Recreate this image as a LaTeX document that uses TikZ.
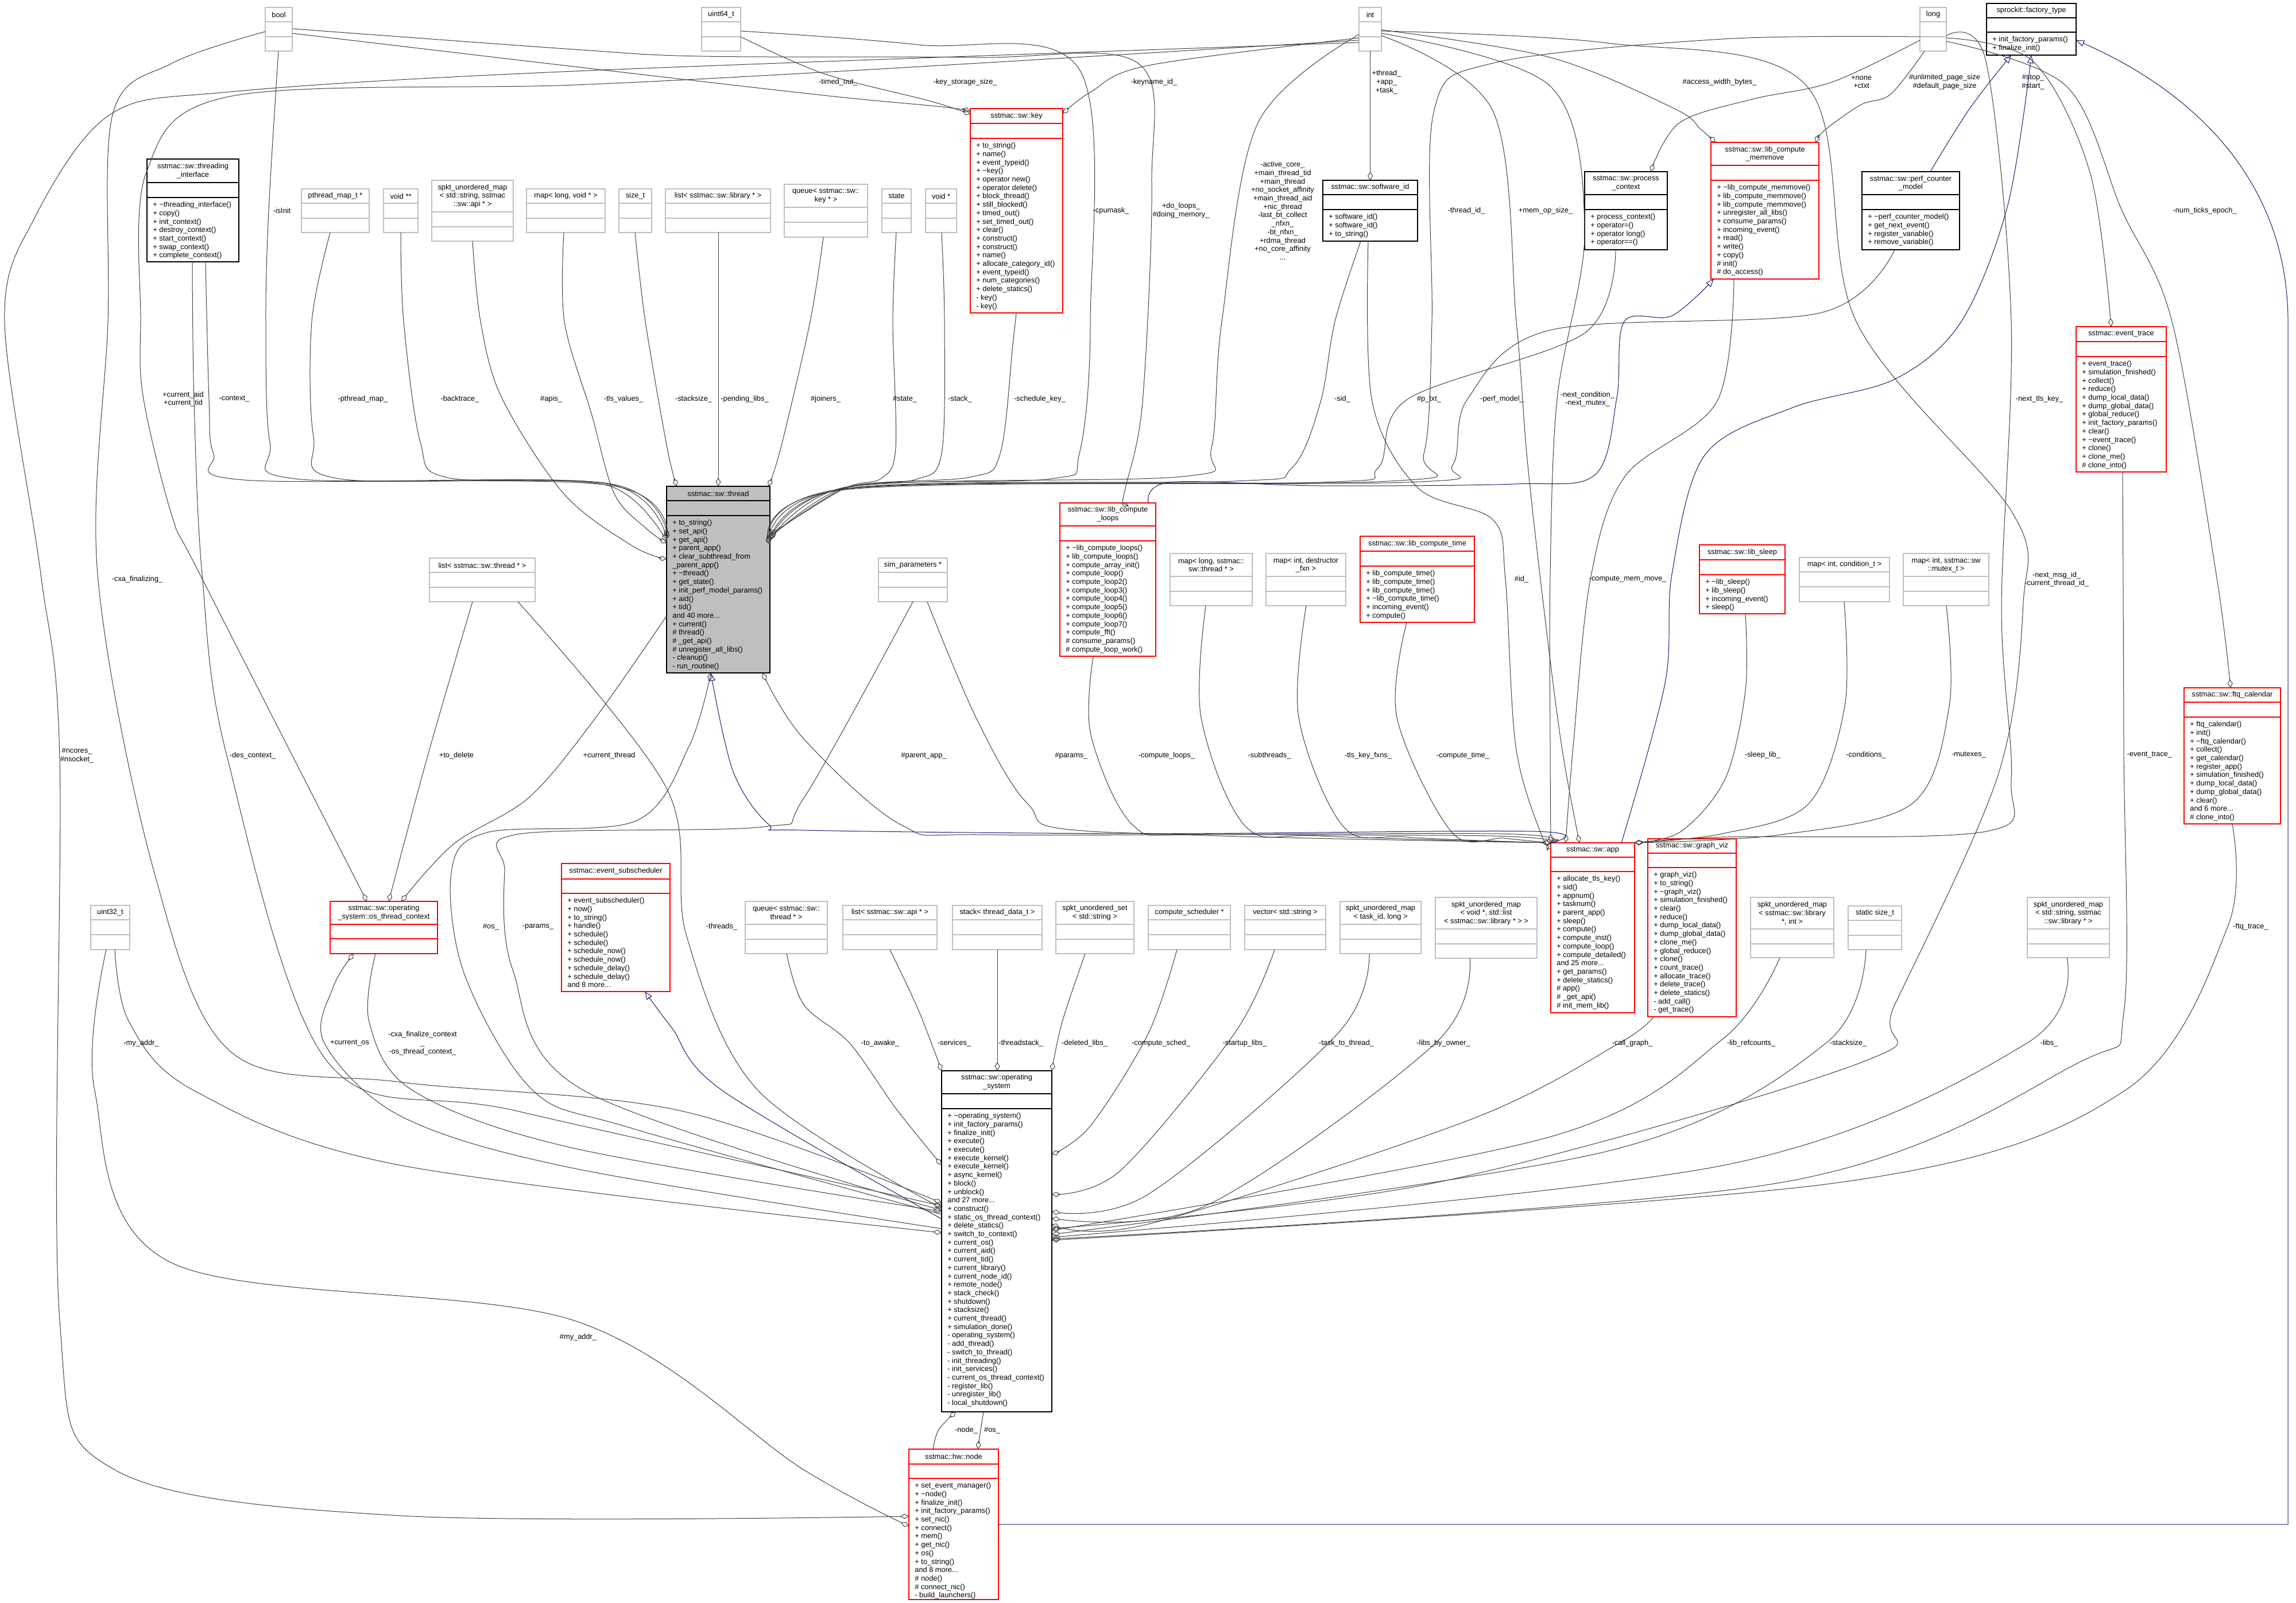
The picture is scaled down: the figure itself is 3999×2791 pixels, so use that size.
\documentclass[tikz,border=0pt]{standalone}
\usepackage{fontspec}
\setmainfont{Liberation Sans}
\usetikzlibrary{arrows.meta}
\definecolor{boxgray}{HTML}{BFBFBF}
\definecolor{edgec}{HTML}{404040}
\definecolor{inhc}{HTML}{191970}
\definecolor{boxred}{HTML}{FF0000}
\newcommand\fs{\fontsize{6.4pt}{7.35pt}\selectfont}
\newcommand\T{\textasciitilde}
\newcommand\cls[9]{%
  \pgfmathsetmacro\cw{(#4-#2)*0.5}%
  \pgfmathsetmacro\ch{(#5-#3)*0.5}%
  \node[#8, anchor=north west, minimum width=\cw pt, minimum height=\ch pt, inner sep=0pt, outer sep=0pt] (#1) at (#2,#3) {};
  \draw[#8,fill=none] (#2,#3+#6) -- (#4,#3+#6) (#2,#3+#6+#7) -- (#4,#3+#6+#7);
  \node[ttl] at ({(#2+#4)/2},{#3+#6/2}) {#9};
}
\newcommand\mth[3]{\node[mtext] at (#1+10,#2+6) {\strut #3};}
\begin{document}
\begin{tikzpicture}[x=0.5pt,y=-0.5pt,
  gbox/.style={draw=boxgray,line width=0.9pt},
  kbox/.style={draw=black,line width=0.9pt},
  rbox/.style={draw=boxred,line width=0.9pt},
  tbox/.style={draw=black,fill=boxgray,line width=0.9pt},
  ttl/.style={font=\fs,align=center,inner sep=0pt},
  mtext/.style={font=\fs,align=left,inner sep=0pt,anchor=north west},
  lbl/.style={font=\fs,align=center,inner sep=0pt},
  edge/.style={draw=edgec,line width=0.5pt,-{Diamond[open,length=7.5pt,width=4.5pt]}},
  inh/.style={draw=inhc,line width=0.5pt,-{Triangle[open,length=7pt,width=5.5pt]}},
  sm/.style={smooth,tension=0.55}]
\fill[white] (0,0) rectangle (3999,2791);
\useasboundingbox (0,0) rectangle (3999,2791);

% ---------- boxes ----------
\cls{bool}{462}{13}{509}{89}{25}{26}{gbox}{bool}
\cls{uint64}{1222}{13}{1290}{89}{25}{26}{gbox}{uint64\_t}
\cls{int}{2367}{13}{2406}{89}{25}{26}{gbox}{int}
\cls{long}{3344}{13}{3390}{89}{25}{26}{gbox}{long}
\cls{factory}{3460}{6}{3616}{96}{25}{25}{kbox}{sprockit::factory\_type}
\mth{3460}{56}{+ init\_factory\_params()\\+ finalize\_init()}
\cls{thrint}{256}{277}{416}{456}{41}{26}{kbox}{sstmac::sw::threading\\\_interface}
\mth{256}{344}{+ \T threading\_interface()\\+ copy()\\+ init\_context()\\+ destroy\_context()\\+ start\_context()\\+ swap\_context()\\+ complete\_context()}
\cls{pmap}{525}{329}{643}{405}{25}{26}{gbox}{pthread\_map\_t *}
\cls{voidpp}{668}{329}{728}{405}{25}{26}{gbox}{void **}
\cls{apimap}{752}{314}{894}{420}{55}{26}{gbox}{spkt\_unordered\_map\\< std::string, sstmac\\::sw::api * >}
\cls{maplv}{917}{329}{1054}{405}{25}{26}{gbox}{map< long, void * >}
\cls{sizet}{1078}{329}{1135}{405}{25}{26}{gbox}{size\_t}
\cls{liblist}{1159}{329}{1342}{405}{25}{26}{gbox}{list< sstmac::sw::library * >}
\cls{keyq}{1366}{321}{1511}{413}{40}{26}{gbox}{queue< sstmac::sw::\\key * >}
\cls{state}{1536}{329}{1587}{405}{25}{26}{gbox}{state}
\cls{voidp}{1612}{329}{1666}{405}{25}{26}{gbox}{void *}
\cls{key}{1690}{189}{1851}{545}{26}{26}{rbox}{sstmac::sw::key}
\mth{1690}{241}{+ to\_string()\\+ name()\\+ event\_typeid()\\+ \T key()\\+ operator new()\\+ operator delete()\\+ block\_thread()\\+ still\_blocked()\\+ timed\_out()\\+ set\_timed\_out()\\+ clear()\\+ construct()\\+ construct()\\+ name()\\+ allocate\_category\_id()\\+ event\_typeid()\\+ num\_categories()\\+ delete\_statics()\\- key()\\- key()}
\cls{swid}{2304}{314}{2469}{420}{25}{26}{kbox}{sstmac::sw::software\_id}
\mth{2304}{365}{+ software\_id()\\+ software\_id()\\+ to\_string()}
\cls{pctx}{2760}{299}{2904}{435}{40}{26}{kbox}{sstmac::sw::process\\\_context}
\mth{2760}{365}{+ process\_context()\\+ operator=()\\+ operator long()\\+ operator==()}
\cls{memmove}{2980}{248}{3168}{486}{40}{26}{rbox}{sstmac::sw::lib\_compute\\\_memmove}
\mth{2980}{314}{+ \T lib\_compute\_memmove()\\+ lib\_compute\_memmove()\\+ lib\_compute\_memmove()\\+ unregister\_all\_libs()\\+ consume\_params()\\+ incoming\_event()\\+ read()\\+ write()\\+ copy()\\\# init()\\\# do\_access()}
\cls{perf}{3243}{299}{3413}{435}{40}{26}{kbox}{sstmac::sw::perf\_counter\\\_model}
\mth{3243}{365}{+ \T perf\_counter\_model()\\+ get\_next\_event()\\+ register\_variable()\\+ remove\_variable()}
\cls{evtrace}{3616}{569}{3773}{822}{26}{26}{rbox}{sstmac::event\_trace}
\mth{3616}{621}{+ event\_trace()\\+ simulation\_finished()\\+ collect()\\+ reduce()\\+ dump\_local\_data()\\+ dump\_global\_data()\\+ global\_reduce()\\+ init\_factory\_params()\\+ clear()\\+ \T event\_trace()\\+ clone()\\+ clone\_me()\\\# clone\_into()}
\cls{thread}{1161}{847}{1341}{1172}{25}{26}{tbox}{sstmac::sw::thread}
\mth{1161}{898}{+ to\_string()\\+ set\_api()\\+ get\_api()\\+ parent\_app()\\+ clear\_subthread\_from\\\_parent\_app()\\+ \T thread()\\+ get\_state()\\+ init\_perf\_model\_params()\\+ aid()\\+ tid()\\and 40 more...\\+ current()\\\# thread()\\\# \_get\_api()\\\# unregister\_all\_libs()\\- cleanup()\\- run\_routine()}
\cls{thlist}{748}{972}{932}{1048}{25}{26}{gbox}{list< sstmac::sw::thread * >}
\cls{simp}{1530}{972}{1650}{1048}{25}{26}{gbox}{sim\_parameters *}
\cls{loops}{1846}{876}{2013}{1143}{40}{26}{rbox}{sstmac::sw::lib\_compute\\\_loops}
\mth{1846}{942}{+ \T lib\_compute\_loops()\\+ lib\_compute\_loops()\\+ compute\_array\_init()\\+ compute\_loop()\\+ compute\_loop2()\\+ compute\_loop3()\\+ compute\_loop4()\\+ compute\_loop5()\\+ compute\_loop6()\\+ compute\_loop7()\\+ compute\_fft()\\\# consume\_params()\\\# compute\_loop\_work()}
\cls{mapthr}{2038}{964}{2181}{1055}{40}{26}{gbox}{map< long, sstmac::\\sw::thread * >}
\cls{mapdes}{2205}{964}{2344}{1055}{40}{26}{gbox}{map< int, destructor\\\_fxn >}
\cls{ctime}{2369}{934}{2568}{1084}{26}{26}{rbox}{sstmac::sw::lib\_compute\_time}
\mth{2369}{986}{+ lib\_compute\_time()\\+ lib\_compute\_time()\\+ lib\_compute\_time()\\+ \T lib\_compute\_time()\\+ incoming\_event()\\+ compute()}
\cls{sleep}{2960}{949}{3109}{1069}{26}{26}{rbox}{sstmac::sw::lib\_sleep}
\mth{2960}{1001}{+ \T lib\_sleep()\\+ lib\_sleep()\\+ incoming\_event()\\+ sleep()}
\cls{mapcond}{3134}{971}{3291}{1048}{25}{26}{gbox}{map< int, condition\_t >}
\cls{mapmutex}{3315}{964}{3464}{1055}{40}{26}{gbox}{map< int, sstmac::sw\\::mutex\_t >}
\cls{ftq}{3804}{1198}{3972}{1435}{25}{26}{rbox}{sstmac::sw::ftq\_calendar}
\mth{3804}{1249}{+ ftq\_calendar()\\+ init()\\+ \T ftq\_calendar()\\+ collect()\\+ get\_calendar()\\+ register\_app()\\+ simulation\_finished()\\+ dump\_local\_data()\\+ dump\_global\_data()\\+ clear()\\and 6 more...\\\# clone\_into()}
\cls{app}{2701}{1468}{2847}{1764}{25}{25}{rbox}{sstmac::sw::app}
\mth{2701}{1518}{+ allocate\_tls\_key()\\+ sid()\\+ appnum()\\+ tasknum()\\+ parent\_app()\\+ sleep()\\+ compute()\\+ compute\_inst()\\+ compute\_loop()\\+ compute\_detailed()\\and 25 more...\\+ get\_params()\\+ delete\_statics()\\\# app()\\\# \_get\_api()\\\# init\_mem\_lib()}
\cls{gviz}{2870}{1461}{3024}{1771}{25}{25}{rbox}{sstmac::sw::graph\_viz}
\mth{2870}{1511}{+ graph\_viz()\\+ to\_string()\\+ \T graph\_viz()\\+ simulation\_finished()\\+ clear()\\+ reduce()\\+ dump\_local\_data()\\+ dump\_global\_data()\\+ clone\_me()\\+ global\_reduce()\\+ clone()\\+ count\_trace()\\+ allocate\_trace()\\+ delete\_trace()\\+ delete\_statics()\\- add\_call()\\- get\_trace()}
\cls{u32}{158}{1577}{226}{1654}{25}{26}{gbox}{uint32\_t}
\cls{osctx}{575}{1570}{762}{1661}{40}{25}{rbox}{sstmac::sw::operating\\\_system::os\_thread\_context}
\cls{evsub}{978}{1504}{1167}{1727}{27}{25}{rbox}{sstmac::event\_subscheduler}
\mth{978}{1556}{+ event\_subscheduler()\\+ now()\\+ to\_string()\\+ handle()\\+ schedule()\\+ schedule()\\+ schedule\_now()\\+ schedule\_now()\\+ schedule\_delay()\\+ schedule\_delay()\\and 8 more...}
\cls{thq}{1298}{1570}{1441}{1661}{40}{26}{gbox}{queue< sstmac::sw::\\thread * >}
\cls{apilist}{1468}{1577}{1632}{1654}{25}{26}{gbox}{list< sstmac::sw::api * >}
\cls{tdstack}{1659}{1577}{1815}{1654}{25}{26}{gbox}{stack< thread\_data\_t >}
\cls{strset}{1839}{1570}{1975}{1661}{40}{26}{gbox}{spkt\_unordered\_set\\< std::string >}
\cls{csched}{2000}{1577}{2143}{1654}{25}{26}{gbox}{compute\_scheduler *}
\cls{strvec}{2168}{1577}{2309}{1654}{25}{26}{gbox}{vector< std::string >}
\cls{taskmap}{2334}{1570}{2475}{1661}{40}{26}{gbox}{spkt\_unordered\_map\\< task\_id, long >}
\cls{ownermap}{2500}{1563}{2677}{1669}{55}{26}{gbox}{spkt\_unordered\_map\\< void *, std::list\\< sstmac::sw::library * > >}
\cls{refmap}{3049}{1563}{3194}{1668}{55}{26}{gbox}{spkt\_unordered\_map\\< sstmac::sw::library\\*, int >}
\cls{ssize}{3219}{1578}{3312}{1654}{25}{26}{gbox}{static size\_t}
\cls{libsmap}{3531}{1563}{3674}{1668}{55}{26}{gbox}{spkt\_unordered\_map\\< std::string, sstmac\\::sw::library * >}
\cls{os}{1640}{1865}{1832}{2459}{40}{26}{kbox}{sstmac::sw::operating\\\_system}
\mth{1640}{1931}{+ \T operating\_system()\\+ init\_factory\_params()\\+ finalize\_init()\\+ execute()\\+ execute()\\+ execute\_kernel()\\+ execute\_kernel()\\+ async\_kernel()\\+ block()\\+ unblock()\\and 27 more...\\+ construct()\\+ static\_os\_thread\_context()\\+ delete\_statics()\\+ switch\_to\_context()\\+ current\_os()\\+ current\_aid()\\+ current\_tid()\\+ current\_library()\\+ current\_node\_id()\\+ remote\_node()\\+ stack\_check()\\+ shutdown()\\+ stacksize()\\+ current\_thread()\\+ simulation\_done()\\- operating\_system()\\- add\_thread()\\- switch\_to\_thread()\\- init\_threading()\\- init\_services()\\- current\_os\_thread\_context()\\- register\_lib()\\- unregister\_lib()\\- local\_shutdown()}
\cls{node}{1583}{2524}{1739}{2786}{26}{25}{rbox}{sstmac::hw::node}
\mth{1583}{2575}{+ set\_event\_manager()\\+ \T node()\\+ finalize\_init()\\+ init\_factory\_params()\\+ set\_nic()\\+ connect()\\+ mem()\\+ get\_nic()\\+ os()\\+ to\_string()\\and 8 more...\\\# node()\\\# connect\_nic()\\- build\_launchers()}

% ---------- member edges into thread ----------
\draw[edge] plot[sm] coordinates {(485,0|-bool.south) (468,367) (463,560) (470,770) (515,834) (1060,842) (thread.west|-0,936)};
\draw[edge] plot[sm] coordinates {(358,0|-thrint.south) (364,695) (372,790) (425,836) (1060,845) (thread.west|-0,939)};
\draw[edge] plot[sm] coordinates {(575,0|-pmap.south) (543,560) (546,760) (592,834) (1060,843) (thread.west|-0,941)};
\draw[edge] plot[sm] coordinates {(698,0|-voidpp.south) (703,560) (732,770) (780,832) (1060,846) (thread.west|-0,943)};
\draw[edge] plot[sm] coordinates {(823,0|-apimap.south) (837,560) (874,693) (982,860) (1100,950) (thread.west|-0,974)};
\draw[edge] plot[sm] coordinates {(982,0|-maplv.south) (983,560) (1030,720) (1070,860) (1125,920) (thread.west|-0,946)};
\draw[edge] plot[sm] coordinates {(1106,0|-sizet.south) (1124,560) (1162,780) (1179,0|-thread.north)};
\draw[edge] (1251,0|-liblist.south) -- (1251,0|-thread.north);
\draw[edge] plot[sm] coordinates {(1434,0|-keyq.south) (1411,560) (1360,780) (1338,0|-thread.north)};
\draw[edge] plot[sm] coordinates {(1561,0|-state.south) (1555,560) (1560,780) (1535,833) (1470,851) (thread.east|-0,931)};
\draw[edge] plot[sm] coordinates {(1640,0|-voidp.south) (1645,560) (1640,790) (1595,835) (1470,851) (thread.east|-0,934)};
\draw[edge] plot[sm] coordinates {(1770,0|-key.south) (1764,600) (1742,790) (1690,831) (1470,850) (thread.east|-0,937)};
\draw[edge] plot[sm] coordinates {(uint64.east|-0,54) (1600,78) (1880,121) (1899,560) (1880,790) (1830,834) (1470,849) (thread.east|-0,939)};
\draw[edge] plot[sm] coordinates {(int.west|-0,60) (2191,214) (2128,560) (2110,780) (2060,830) (1480,848) (thread.east|-0,941)};
\draw[edge] plot[sm] coordinates {(2370,0|-swid.south) (2325,560) (2300,700) (2250,815) (2150,838) (1480,850) (thread.east|-0,943)};
\draw[edge] plot[sm] coordinates {(2814,0|-pctx.south) (2760,580) (2452,695) (2400,815) (2300,840) (1480,851) (thread.east|-0,945)};
\draw[edge] plot[sm] coordinates {(3300,0|-perf.south) (3170,545) (2700,575) (2556,695) (2530,810) (2450,840) (1480,852) (thread.east|-0,947)};
\draw[edge] plot[sm] coordinates {(long.west|-0,64) (3000,68) (2600,110) (2497,196) (2494,560) (2480,790) (2420,838) (1480,850) (thread.east|-0,949)};

% ---------- top area ----------
\draw[edge] plot[sm] coordinates {(bool.east|-0,50) (1000,86) (1223,98) (1700,100) (1982,110) (2006,321) (1990,700) (1960,850) (1952,0|-loops.north)};
\draw[edge] plot[sm] coordinates {(bool.east|-0,58) (1000,116) (1434,166) (1640,186) (key.west|-0,194)};
\draw[edge] plot[sm] coordinates {(uint64.east|-0,64) (1434,128) (1620,176) (key.west|-0,199)};
\draw[edge] plot[sm] coordinates {(int.west|-0,66) (2000,114) (1900,160) (key.east|-0,198)};
\draw[edge] (int.south) -- (swid.north);
\draw[edge] plot[sm] coordinates {(int.east|-0,52) (2700,100) (2916,189) (2962,225) (2988,0|-memmove.north)};
\draw[edge] plot[sm] coordinates {(3352,0|-long.south) (3293,164) (3242,182) (3180,225) (3162,0|-memmove.north)};
\draw[edge] plot[sm] coordinates {(long.west|-0,70) (3191,143) (3051,173) (2925,214) (2875,0|-pctx.north)};
\draw[edge] plot[sm] coordinates {(long.east|-0,66) (3541,107) (3640,300) (3677,0|-evtrace.north)};
\draw[edge] plot[sm] coordinates {(long.east|-0,72) (3599,150) (3696,367) (3783,560) (3860,1000) (3885,0|-ftq.north)};

% ---------- far left ----------
\draw[edge] plot[sm] coordinates {(int.west|-0,70) (1500,122) (1000,148) (400,168) (255,300) (245,560) (250,695) (300,900) (348,1000) (639,0|-osctx.north)};
\draw[edge] plot[sm] coordinates {(int.west|-0,74) (1000,124) (400,160) (191,200) (60,380) (8,560) (71,1000) (104,1321) (104,2300) (200,2560) (700,2640) (node.west|-0,2641)};
\draw[edge] plot[sm] coordinates {(bool.west|-0,55) (300,110) (196,200) (188,560) (170,1000) (268,1517) (402,1832) (700,1885) (1187,1935) (os.west|-0,2095)};
\draw[edge] plot[sm] coordinates {(335,0|-thrint.south) (338,700) (352,1000) (395,1316) (571,1850) (900,1935) (os.west|-0,2100)};
\draw[edge] plot[sm] coordinates {(902,0|-thlist.south) (1161,1373) (1196,1631) (1321,1900) (os.west|-0,2104)};
\draw[edge] plot[sm] coordinates {(654,0|-osctx.south) (643,1780) (720,1900) (1000,2000) (os.west|-0,2110)};
\draw[edge] plot[sm] coordinates {(os.west|-0,2140) (1000,2035) (700,1945) (565,1817) (580,1720) (616,0|-osctx.south)};
\draw[edge] plot[sm] coordinates {(thread.west|-0,1073) (1030,1260) (920,1390) (790,1470) (699,0|-osctx.north)};
\draw[edge] plot[sm] coordinates {(823,0|-thlist.south) (745,1316) (677,0|-osctx.north)};
\draw[edge] plot[sm] coordinates {(os.west|-0,2115) (1100,1965) (929,1900) (810,1700) (786,1520) (848,1450) (1107,1430) (1200,1300) (1238,0|-thread.south)};
\draw[edge] plot[sm] coordinates {(1590,0|-simp.south) (1400,1390) (1330,1440) (902,1453) (879,1517) (893,1689) (1018,1900) (os.west|-0,2108)};
\draw[edge] plot[sm] coordinates {(200,0|-u32.south) (225,1780) (339,1900) (700,2030) (os.west|-0,2147)};
\draw[edge] plot[sm] coordinates {(185,0|-u32.south) (165,1900) (300,2200) (1000,2300) (1400,2560) (node.west|-0,2658)};

% ---------- into app ----------
\draw[edge] plot[sm] coordinates {(1615,0|-simp.south) (1700,1250) (1790,1400) (1900,1448) (2600,1456) (app.north west)};
\draw[edge] plot[sm] coordinates {(app.north west) (2600,1452) (1735,1454) (1572,1438) (1400,1287) (1328,0|-thread.south)};
\draw[edge] plot[sm] coordinates {(1904,0|-loops.south) (1900,1280) (1974,1438) (2100,1455) (app.north west)};
\draw[edge] plot[sm] coordinates {(2100,0|-mapthr.south) (2092,1250) (2170,1440) (2300,1456) (app.north west)};
\draw[edge] plot[sm] coordinates {(2275,0|-mapdes.south) (2262,1250) (2340,1440) (2450,1458) (app.north west)};
\draw[edge] plot[sm] coordinates {(2450,0|-ctime.south) (2433,1250) (2529,1450) (2620,1460) (app.north west)};
\draw[edge] plot[sm] coordinates {(2383,0|-swid.south) (2390,700) (2470,850) (2600,905) (2622,1009) (2640,1300) (2685,1455) (app.north west)};
\draw[edge] plot[sm] coordinates {(3020,0|-memmove.south) (2990,700) (2830,830) (2770,1009) (2740,1300) (2727,0|-app.north)};
\draw[edge] plot[sm] coordinates {(int.east|-0,62) (2600,193) (2641,560) (2660,800) (2689,1060) (2720,1300) (2751,0|-app.north)};
\draw[edge] plot[sm] coordinates {(int.east|-0,58) (2700,150) (2760,400) (2712,695) (2700,1000) (2700,1300) (app.north west)};
\draw[edge] plot[sm] coordinates {(long.east|-0,62) (3459,107) (3503,560) (3486,1060) (3503,1356) (3460,1448) (3000,1458) (app.north east)};
\draw[edge] plot[sm] coordinates {(3040,0|-sleep.south) (3040,1203) (3005,1356) (2928,1448) (app.north east)};
\draw[edge] plot[sm] coordinates {(3212,0|-mapcond.south) (3213,1230) (3150,1400) (3000,1452) (app.north east)};
\draw[edge] plot[sm] coordinates {(3390,0|-mapmutex.south) (3395,1230) (3330,1400) (3100,1454) (app.north east)};

% ---------- into os ----------
\draw[edge] plot[sm] coordinates {(int.east|-0,54) (2800,75) (3147,150) (3233,560) (3505,893) (3524,1050) (3480,1350) (3300,1750) (3243,1850) (2500,2060) (os.east|-0,2140)};
\draw[edge] plot[sm] coordinates {(1370,0|-thq.south) (1400,1750) (1480,1817) (1560,1930) (os.west|-0,2029)};
\draw[edge] plot[sm] coordinates {(1550,0|-apilist.south) (1600,1760) (os.north west)};
\draw[edge] (1737,0|-tdstack.south) -- (1737,0|-os.north);
\draw[edge] plot[sm] coordinates {(1890,0|-strset.south) (1850,1780) (os.north east)};
\draw[edge] plot[sm] coordinates {(2050,0|-csched.south) (2000,1800) (1900,1960) (os.east|-0,2011)};
\draw[edge] plot[sm] coordinates {(2220,0|-strvec.south) (2150,1800) (1950,2040) (os.east|-0,2080)};
\draw[edge] plot[sm] coordinates {(2385,0|-taskmap.south) (2330,1800) (2000,2080) (os.east|-0,2110)};
\draw[edge] plot[sm] coordinates {(2560,0|-ownermap.south) (2500,1817) (2100,2100) (os.east|-0,2122)};
\draw[edge] plot[sm] coordinates {(2880,0|-gviz.south) (2820,1817) (2561,1950) (2000,2132) (os.east|-0,2132)};
\draw[edge] plot[sm] coordinates {(3100,0|-refmap.south) (3000,1810) (2700,1980) (os.east|-0,2143)};
\draw[edge] plot[sm] coordinates {(3250,0|-ssize.south) (3180,1817) (2800,2005) (os.east|-0,2150)};
\draw[edge] plot[sm] coordinates {(3600,0|-libsmap.south) (3530,1817) (3000,2030) (os.east|-0,2155)};
\draw[edge] plot[sm] coordinates {(3888,0|-ftq.south) (3880,1614) (3700,1900) (3200,2060) (os.east|-0,2160)};
\draw[edge] plot[sm] coordinates {(3697,0|-evtrace.south) (3699,1300) (3699,1764) (3622,1850) (3100,2060) (os.east|-0,2158)};
\draw[edge] plot[sm] coordinates {(1625,0|-node.north) (1635,2490) (1665,0|-os.south)};
\draw[edge] plot[sm] coordinates {(1713,0|-os.south) (1708,2490) (1703,0|-node.north)};

% ---------- inheritance ----------
\draw[inh] (node.east) -- (3985,0|-node.east) -- (3985,560) .. controls (3985,300) and (3800,150) .. (factory.east|-0,70);
\draw[inh] plot[sm] coordinates {(3362,0|-perf.north) (3430,190) (3503,0|-factory.south)};
\draw[inh] plot[sm] coordinates {(2824,0|-app.north) (2900,1190) (2912,1000) (2969,793) (3122,710) (3301,660) (3416,560) (3497,357) (3538,0|-factory.south)};
\draw[inh] plot[sm] coordinates {(2000,0|-loops.north) (2038,840) (2300,846) (2638,843) (2778,827) (2816,693) (2829,560) (2912,550) (2985,0|-memmove.south)};
\draw[inh] plot[sm] coordinates {(app.north west) (2670,1448) (2000,1452) (1400,1446) (1339,1436) (1277,1344) (1238,0|-thread.south)};
\draw[inh] plot[sm] coordinates {(os.west|-0,2123) (1259,1900) (1170,1790) (1123,0|-evsub.south)};

% ---------- labels ----------
\node[lbl] (l1) at (491,367) {-isInit};
\node[lbl] (l2) at (1460,143) {-timed\_out\_};
\node[lbl] (l3) at (1681,143) {-key\_storage\_size\_};
\node[lbl] (l4) at (2010,143) {-keyname\_id\_};
\node[lbl] (l5) at (2415,143) {+thread\_\\+app\_\\+task\_};
\node[lbl] (l6) at (2995,143) {\#access\_width\_bytes\_};
\node[lbl] (l7) at (3242,143) {+none\\+ctxt};
\node[lbl] (l8) at (3387,143) {\#unlimited\_page\_size\\\#default\_page\_size};
\node[lbl] (l9) at (3541,143) {\#stop\_\\\#start\_};
\node[lbl] (l10) at (1935,367) {-cpumask\_};
\node[lbl] (l11) at (2057,367) {+do\_loops\_\\\#doing\_memory\_};
\node[lbl] (l12) at (2234,367) {-active\_core\_\\+main\_thread\_tid\\+main\_thread\\+no\_socket\_affinity\\+main\_thread\_aid\\+nic\_thread\\-last\_bt\_collect\\\_nfxn\_\\-bt\_nfxn\_\\+rdma\_thread\\+no\_core\_affinity\\...};
\node[lbl] (l13) at (2554,367) {-thread\_id\_};
\node[lbl] (l14) at (2692,367) {+mem\_op\_size\_};
\node[lbl] (l15) at (3840,367) {-num\_ticks\_epoch\_};
\node[lbl] (l16) at (319,695) {+current\_aid\\+current\_tid};
\node[lbl] (l17) at (408,695) {-context\_};
\node[lbl] (l18) at (632,695) {-pthread\_map\_};
\node[lbl] (l19) at (801,695) {-backtrace\_};
\node[lbl] (l20) at (960,695) {\#apis\_};
\node[lbl] (l21) at (1086,695) {-tls\_values\_};
\node[lbl] (l22) at (1208,695) {-stacksize\_};
\node[lbl] (l23) at (1297,695) {-pending\_libs\_};
\node[lbl] (l24) at (1438,695) {\#joiners\_};
\node[lbl] (l25) at (1576,695) {\#state\_};
\node[lbl] (l26) at (1672,695) {-stack\_};
\node[lbl] (l27) at (1811,695) {-schedule\_key\_};
\node[lbl] (l28) at (2338,695) {-sid\_};
\node[lbl] (l29) at (2489,695) {\#p\_txt\_};
\node[lbl] (l30) at (2616,695) {-perf\_model\_};
\node[lbl] (l31) at (2765,695) {-next\_condition\_\\-next\_mutex\_};
\node[lbl] (l32) at (3552,695) {-next\_tls\_key\_};
\node[lbl] (l33) at (239,1009) {-cxa\_finalizing\_};
\node[lbl] (l34) at (2650,1009) {\#id\_};
\node[lbl] (l35) at (2835,1009) {-compute\_mem\_move\_};
\node[lbl] (l36) at (3582,1009) {-next\_msg\_id\_\\-current\_thread\_id\_};
\node[lbl] (l37) at (134,1316) {\#ncores\_\\\#nsocket\_};
\node[lbl] (l38) at (440,1316) {-des\_context\_};
\node[lbl] (l39) at (795,1316) {+to\_delete};
\node[lbl] (l40) at (1061,1316) {+current\_thread};
\node[lbl] (l41) at (1609,1316) {\#parent\_app\_};
\node[lbl] (l42) at (1866,1316) {\#params\_};
\node[lbl] (l43) at (2032,1316) {-compute\_loops\_};
\node[lbl] (l44) at (2211,1316) {-subthreads\_};
\node[lbl] (l45) at (2383,1316) {-tls\_key\_fxns\_};
\node[lbl] (l46) at (2548,1316) {-compute\_time\_};
\node[lbl] (l47) at (3070,1315) {-sleep\_lib\_};
\node[lbl] (l48) at (3250,1315) {-conditions\_};
\node[lbl] (l49) at (3429,1315) {-mutexes\_};
\node[lbl] (l50) at (3744,1315) {-event\_trace\_};
\node[lbl] (l51) at (855,1614) {\#os\_};
\node[lbl] (l52) at (937,1614) {-params\_};
\node[lbl] (l53) at (1257,1614) {-threads\_};
\node[lbl] (l54) at (3920,1614) {-ftq\_trace\_};
\node[lbl] (l55) at (246,1817) {-my\_addr\_};
\node[lbl] (l56) at (609,1817) {+current\_os};
\node[lbl] (l57) at (736,1817) {-cxa\_finalize\_context\\\_\\-os\_thread\_context\_};
\node[lbl] (l58) at (1533,1817) {-to\_awake\_};
\node[lbl] (l59) at (1662,1817) {-services\_};
\node[lbl] (l60) at (1778,1817) {-threadstack\_};
\node[lbl] (l61) at (1889,1817) {-deleted\_libs\_};
\node[lbl] (l62) at (2022,1817) {-compute\_sched\_};
\node[lbl] (l63) at (2168,1817) {-startup\_libs\_};
\node[lbl] (l64) at (2345,1817) {-task\_to\_thread\_};
\node[lbl] (l65) at (2514,1817) {-libs\_by\_owner\_};
\node[lbl] (l66) at (2843,1817) {-call\_graph\_};
\node[lbl] (l67) at (3050,1817) {-lib\_refcounts\_};
\node[lbl] (l68) at (3219,1817) {-stacksize\_};
\node[lbl] (l69) at (3569,1817) {-libs\_};
\node[lbl] (l70) at (1007,2329) {\#my\_addr\_};
\node[lbl] (l71) at (1683,2491) {-node\_};
\node[lbl] (l72) at (1728,2491) {\#os\_};
\end{tikzpicture}
\end{document}
